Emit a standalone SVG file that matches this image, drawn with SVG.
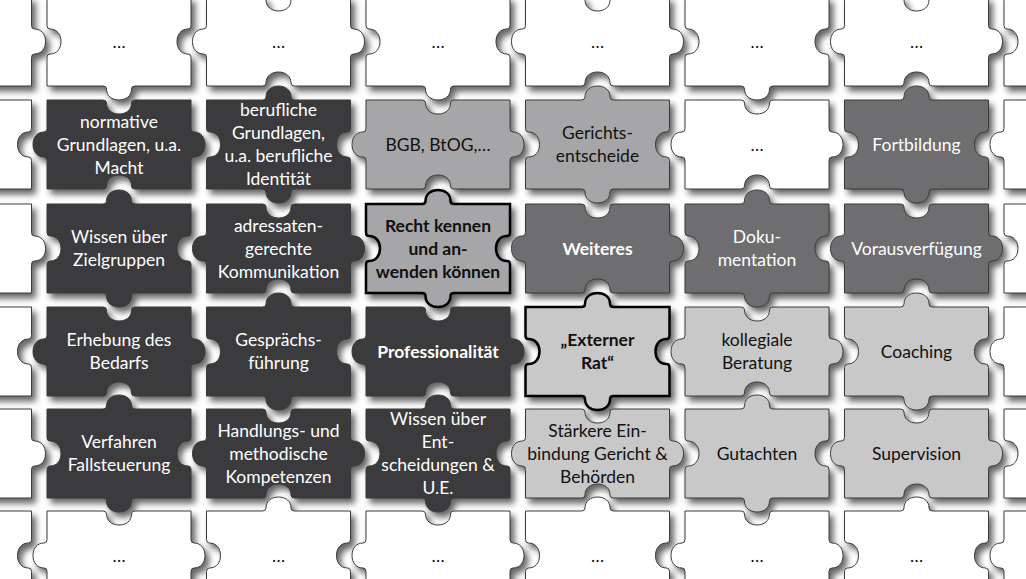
<svg xmlns="http://www.w3.org/2000/svg" width="1026" height="579" viewBox="0 0 1026 579">
<defs>
<filter id="sh" x="-20%" y="-30%" width="150%" height="170%" color-interpolation-filters="sRGB">
<feDropShadow dx="4" dy="5" stdDeviation="3.2" flood-color="#000" flood-opacity="0.6"/>
</filter>
<path id="pa" d="M0,0 H56 Q59.5,0 59.5,-3 C59.5,-10 65,-14 72,-14 C79,-14 84.5,-10 84.5,-3 Q84.5,0 88,0 H144 V28.5 Q144,32 141,32 C134,32 130,37.5 130,44.5 C130,51.5 134,57 141,57 Q144,57 144,60.5 V89 H88 Q84.5,89 84.5,92 C84.5,99 79,103 72,103 C65,103 59.5,99 59.5,92 Q59.5,89 56,89 H0 V60.5 Q0,57 3,57 C10,57 14,51.5 14,44.5 C14,37.5 10,32 3,32 Q0,32 0,28.5 Z"/>
<path id="pb" d="M0,0 H56 Q59.5,0 59.5,3 C59.5,10 65,14 72,14 C79,14 84.5,10 84.5,3 Q84.5,0 88,0 H144 V28.5 Q144,32 147,32 C154,32 158,37.5 158,44.5 C158,51.5 154,57 147,57 Q144,57 144,60.5 V89 H88 Q84.5,89 84.5,86 C84.5,79 79,75 72,75 C65,75 59.5,79 59.5,86 Q59.5,89 56,89 H0 V60.5 Q0,57 -3,57 C-10,57 -14,51.5 -14,44.5 C-14,37.5 -10,32 -3,32 Q0,32 0,28.5 Z"/>
</defs>
<style>
.p{stroke:#3a3a3a;stroke-width:1;filter:url(#sh)}
.wh{fill:#ffffff}.dk{fill:#3b3b3d}.md{fill:#6e6e70}.gy{fill:#a6a6a8}.lt{fill:#c8c8c8}
.hl{stroke:#000;stroke-width:2.5}
text{font-family:Lato,"Open Sans","Liberation Sans",sans-serif;font-size:17.5px;text-anchor:middle}
.tw{fill:#ffffff}.tk{fill:#111111}.bd{font-weight:bold}
</style>
<rect width="1026" height="579" fill="#ffffff"/>

<!-- Row 0 -->
<g id="r0cm1"><use href="#pb" x="-112.5" y="-3" class="p wh"/></g>
<g id="r0c0"><use href="#pa" x="47" y="-3" class="p wh"/><text class="tk" x="119" y="47.5">…</text></g>
<g id="r0c1"><use href="#pb" x="206.5" y="-3" class="p wh"/><text class="tk" x="278.5" y="47.5">…</text></g>
<g id="r0c2"><use href="#pa" x="366" y="-3" class="p wh"/><text class="tk" x="438" y="47.5">…</text></g>
<g id="r0c3"><use href="#pb" x="525.5" y="-3" class="p wh"/><text class="tk" x="597.5" y="47.5">…</text></g>
<g id="r0c4"><use href="#pa" x="685" y="-3" class="p wh"/><text class="tk" x="757" y="47.5">…</text></g>
<g id="r0c5"><use href="#pb" x="844.5" y="-3" class="p wh"/><text class="tk" x="916.5" y="47.5">…</text></g>
<g id="r0c6"><use href="#pa" x="1004" y="-3" class="p wh"/></g>

<!-- Row 1 -->
<g id="r1cm1"><use href="#pa" x="-112.5" y="100" class="p wh"/></g>
<g id="r1c0"><use href="#pb" x="47" y="100" class="p dk"/><text class="tw"><tspan x="119" y="127.5">normative</tspan><tspan x="119" y="150.5">Grundlagen, u.a.</tspan><tspan x="119" y="173.5">Macht</tspan></text></g>
<g id="r1c1"><use href="#pa" x="206.5" y="100" class="p dk"/><text class="tw"><tspan x="278.5" y="116">berufliche</tspan><tspan x="278.5" y="139">Grundlagen,</tspan><tspan x="278.5" y="162">u.a. berufliche</tspan><tspan x="278.5" y="185">Identität</tspan></text></g>
<g id="r1c2"><use href="#pb" x="366" y="100" class="p gy"/><text class="tk" x="438" y="150.5">BGB, BtOG,…</text></g>
<g id="r1c3"><use href="#pa" x="525.5" y="100" class="p gy"/><text class="tk"><tspan x="597.5" y="139">Gerichts-</tspan><tspan x="597.5" y="162">entscheide</tspan></text></g>
<g id="r1c4"><use href="#pb" x="685" y="100" class="p wh"/><text class="tk" x="757" y="150.5">…</text></g>
<g id="r1c5"><use href="#pa" x="844.5" y="100" class="p md"/><text class="tw" x="916.5" y="150.5">Fortbildung</text></g>
<g id="r1c6"><use href="#pb" x="1004" y="100" class="p wh"/></g>

<!-- Row 2 -->
<g id="r2cm1"><use href="#pb" x="-112.5" y="204" class="p wh"/></g>
<g id="r2c0"><use href="#pa" x="47" y="204" class="p dk"/><text class="tw"><tspan x="119" y="243">Wissen über</tspan><tspan x="119" y="266">Zielgruppen</tspan></text></g>
<g id="r2c1"><use href="#pb" x="206.5" y="204" class="p dk"/><text class="tw"><tspan x="278.5" y="231.5">adressaten-</tspan><tspan x="278.5" y="254.5">gerechte</tspan><tspan x="278.5" y="277.5">Kommunikation</tspan></text></g>
<g id="r2c2"><use href="#pa" x="366" y="204" class="p gy hl"/><text class="tk bd"><tspan x="438" y="231.5">Recht kennen</tspan><tspan x="438" y="254.5">und an-</tspan><tspan x="438" y="277.5">wenden können</tspan></text></g>
<g id="r2c3"><use href="#pb" x="525.5" y="204" class="p md"/><text class="tw bd" x="597.5" y="254.5">Weiteres</text></g>
<g id="r2c4"><use href="#pa" x="685" y="204" class="p md"/><text class="tw"><tspan x="757" y="243">Doku-</tspan><tspan x="757" y="266">mentation</tspan></text></g>
<g id="r2c5"><use href="#pb" x="844.5" y="204" class="p md"/><text class="tw" x="916.5" y="254.5">Vorausverfügung</text></g>
<g id="r2c6"><use href="#pa" x="1004" y="204" class="p wh"/></g>

<!-- Row 3 -->
<g id="r3cm1"><use href="#pa" x="-112.5" y="307" class="p wh"/></g>
<g id="r3c0"><use href="#pb" x="47" y="307" class="p dk"/><text class="tw"><tspan x="119" y="346">Erhebung des</tspan><tspan x="119" y="369">Bedarfs</tspan></text></g>
<g id="r3c1"><use href="#pa" x="206.5" y="307" class="p dk"/><text class="tw"><tspan x="278.5" y="346">Gesprächs-</tspan><tspan x="278.5" y="369">führung</tspan></text></g>
<g id="r3c2"><use href="#pb" x="366" y="307" class="p dk"/><text class="tw bd" x="438" y="357.5">Professionalität</text></g>
<g id="r3c3"><use href="#pa" x="525.5" y="307" class="p lt hl"/><text class="tk bd"><tspan x="597.5" y="346">„Externer</tspan><tspan x="597.5" y="369">Rat“</tspan></text></g>
<g id="r3c4"><use href="#pb" x="685" y="307" class="p lt"/><text class="tk"><tspan x="757" y="346">kollegiale</tspan><tspan x="757" y="369">Beratung</tspan></text></g>
<g id="r3c5"><use href="#pa" x="844.5" y="307" class="p lt"/><text class="tk" x="916.5" y="357.5">Coaching</text></g>
<g id="r3c6"><use href="#pb" x="1004" y="307" class="p wh"/></g>

<!-- Row 4 -->
<g id="r4cm1"><use href="#pb" x="-112.5" y="409" class="p wh"/></g>
<g id="r4c0"><use href="#pa" x="47" y="409" class="p dk"/><text class="tw"><tspan x="119" y="448">Verfahren</tspan><tspan x="119" y="471">Fallsteuerung</tspan></text></g>
<g id="r4c1"><use href="#pb" x="206.5" y="409" class="p dk"/><text class="tw"><tspan x="278.5" y="436.5">Handlungs- und</tspan><tspan x="278.5" y="459.5">methodische</tspan><tspan x="278.5" y="482.5">Kompetenzen</tspan></text></g>
<g id="r4c2"><use href="#pa" x="366" y="409" class="p dk"/><text class="tw"><tspan x="438" y="425">Wissen über</tspan><tspan x="438" y="448">Ent-</tspan><tspan x="438" y="471">scheidungen &amp;</tspan><tspan x="438" y="494">U.E.</tspan></text></g>
<g id="r4c3"><use href="#pb" x="525.5" y="409" class="p lt"/><text class="tk"><tspan x="597.5" y="436.5">Stärkere Ein-</tspan><tspan x="597.5" y="459.5">bindung Gericht &amp;</tspan><tspan x="597.5" y="482.5">Behörden</tspan></text></g>
<g id="r4c4"><use href="#pa" x="685" y="409" class="p lt"/><text class="tk" x="757" y="459.5">Gutachten</text></g>
<g id="r4c5"><use href="#pb" x="844.5" y="409" class="p lt"/><text class="tk" x="916.5" y="459.5">Supervision</text></g>
<g id="r4c6"><use href="#pa" x="1004" y="409" class="p wh"/></g>

<!-- Row 5 -->
<g id="r5cm1"><use href="#pa" x="-112.5" y="511" class="p wh"/></g>
<g id="r5c0"><use href="#pb" x="47" y="511" class="p wh"/><text class="tk" x="119" y="561.5">…</text></g>
<g id="r5c1"><use href="#pa" x="206.5" y="511" class="p wh"/><text class="tk" x="278.5" y="561.5">…</text></g>
<g id="r5c2"><use href="#pb" x="366" y="511" class="p wh"/><text class="tk" x="438" y="561.5">…</text></g>
<g id="r5c3"><use href="#pa" x="525.5" y="511" class="p wh"/><text class="tk" x="597.5" y="561.5">…</text></g>
<g id="r5c4"><use href="#pb" x="685" y="511" class="p wh"/><text class="tk" x="757" y="561.5">…</text></g>
<g id="r5c5"><use href="#pa" x="844.5" y="511" class="p wh"/><text class="tk" x="916.5" y="561.5">…</text></g>
<g id="r5c6"><use href="#pb" x="1004" y="511" class="p wh"/></g>
</svg>
